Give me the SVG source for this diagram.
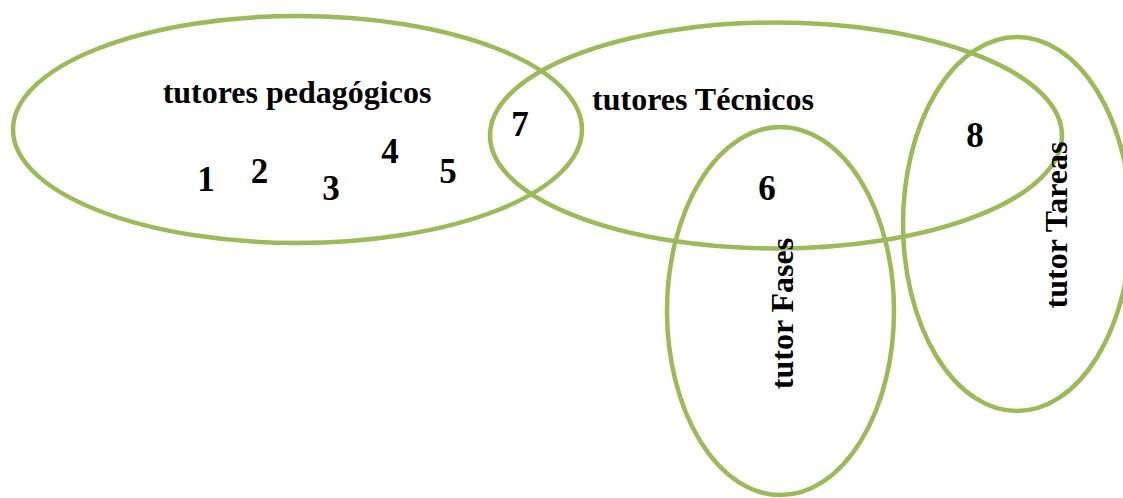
<svg xmlns="http://www.w3.org/2000/svg" width="1123" height="498" viewBox="0 0 1123 498">
<style>
.set{fill:none;stroke:#9BBB59;stroke-width:4.5}
.t{font-family:"Liberation Serif","Times New Roman",serif;font-weight:bold;font-size:32px;fill:#000}
.n{font-family:"Liberation Serif","Times New Roman",serif;font-weight:bold;font-size:35px;fill:#000;text-anchor:middle}
</style>
<rect width="1123" height="498" fill="#fff"/>
<g id="pedagogicos">
<ellipse class="set" cx="297.5" cy="129.5" rx="284.5" ry="113.5"/>
<text class="t" x="297" y="103" text-anchor="middle">tutores pedagógicos</text>
<text class="n" x="206" y="191">1</text>
<text class="n" x="259.5" y="183">2</text>
<text class="n" x="331" y="200">3</text>
<text class="n" x="390" y="163">4</text>
<text class="n" x="448" y="183">5</text>
</g>
<g id="tecnicos">
<ellipse class="set" cx="776" cy="135.5" rx="286" ry="113"/>
<text class="t" x="703" y="110" text-anchor="middle">tutores Técnicos</text>
<text class="n" x="520" y="136">7</text>
</g>
<g id="fases">
<ellipse class="set" cx="780.5" cy="311" rx="113.5" ry="184"/>
<text class="n" x="767" y="200">6</text>
<text class="t" transform="translate(793,313.5) rotate(-90)" text-anchor="middle">tutor Fases</text>
</g>
<g id="tareas">
<ellipse class="set" cx="1017" cy="224" rx="114" ry="187"/>
<text class="n" x="975" y="147">8</text>
<text class="t" transform="translate(1067,225) rotate(-90)" text-anchor="middle">tutor Tareas</text>
</g>
<g id="connectors"/>
</svg>
